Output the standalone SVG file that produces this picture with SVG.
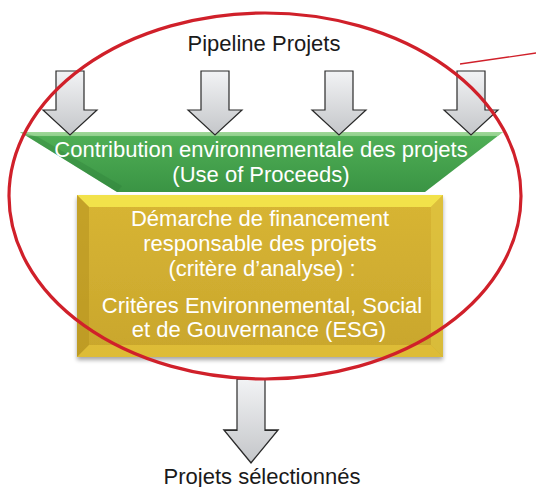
<svg xmlns="http://www.w3.org/2000/svg" width="536" height="487" viewBox="0 0 536 487">
  <defs>
    <linearGradient id="arrowFill" x1="0" y1="0" x2="0" y2="1">
      <stop offset="0" stop-color="#f2f3f5"/>
      <stop offset="1" stop-color="#c4c6c9"/>
    </linearGradient>
    <linearGradient id="greenFill" x1="0" y1="0" x2="0" y2="1">
      <stop offset="0" stop-color="#8fd08a"/>
      <stop offset="0.08" stop-color="#4fae55"/>
      <stop offset="1" stop-color="#3a9444"/>
    </linearGradient>
    <linearGradient id="goldFill" x1="0" y1="0" x2="0" y2="1">
      <stop offset="0" stop-color="#d8b534"/>
      <stop offset="1" stop-color="#c9a62c"/>
    </linearGradient>
    <filter id="shadow" x="-10%" y="-10%" width="120%" height="130%">
      <feGaussianBlur in="SourceAlpha" stdDeviation="2"/>
      <feOffset dy="3"/>
      <feComponentTransfer><feFuncA type="linear" slope="0.35"/></feComponentTransfer>
      <feMerge><feMergeNode/><feMergeNode in="SourceGraphic"/></feMerge>
    </filter>
    <path id="downArrow" d="M-14,0 H14 V39 H27 L0,64 L-27,39 H-14 Z"/>
  </defs>
  <style>
    .lbl { font-family: "Liberation Sans", Arial, sans-serif; font-size: 22px; text-anchor: middle; }
    .dark { fill: #1a1a1a; }
    .light { fill: #ffffff; }
    .arrow { fill: url(#arrowFill); stroke: #2a2a2a; stroke-width: 1.2; }
  </style>

  <!-- title -->
  <g id="pipeline-title">
    <text class="lbl dark" x="264" y="51">Pipeline Projets</text>
  </g>

  <!-- green funnel: use of proceeds -->
  <g id="use-of-proceeds">
    <polygon points="20,132 503,132 425,192 117,192" fill="url(#greenFill)"/>
    <polygon points="20,132 503,132 498,136 25,136" fill="#a8dca0" opacity="0.7"/>
    <polygon points="20,132 117,192 122,186 38,137" fill="#2f7f38" opacity="0.35"/>
    <text class="lbl light" x="261" y="157">Contribution environnementale des projets</text>
    <text class="lbl light" x="261" y="182">(Use of Proceeds)</text>
  </g>

  <!-- input arrows -->
  <g id="connectors">
    <use href="#downArrow" class="arrow" transform="translate(70,71)"/>
    <use href="#downArrow" class="arrow" transform="translate(215,71)"/>
    <use href="#downArrow" class="arrow" transform="translate(339,71)"/>
    <use href="#downArrow" class="arrow" transform="translate(471,71)"/>
    <use href="#downArrow" class="arrow" transform="translate(251,379) scale(1,1.31)"/>
  </g>

  <!-- gold box: ESG screening -->
  <g id="esg-screening">
    <rect x="77" y="195" width="366" height="162" fill="url(#goldFill)" filter="url(#shadow)"/>
    <polygon points="77,195 443,195 431,207 89,207" fill="#f2e24a"/>
    <polygon points="77,195 89,207 89,345 77,357" fill="#b8951f" opacity="0.6"/>
    <polygon points="443,195 431,207 431,345 443,357" fill="#e0c440" opacity="0.7"/>
    <polygon points="77,357 89,345 431,345 443,357" fill="#e2c23a" opacity="0.8"/>
    <text class="lbl light" x="260" y="226">Démarche de financement</text>
    <text class="lbl light" x="260" y="251">responsable des projets</text>
    <text class="lbl light" x="262" y="276">(critère d’analyse) :</text>
    <text class="lbl light" x="262" y="313">Critères Environnemental, Social</text>
    <text class="lbl light" x="259" y="337">et de Gouvernance (ESG)</text>
  </g>

  <!-- highlight ring and callout line -->
  <g id="highlight">
    <ellipse cx="265" cy="196" rx="256" ry="183" fill="none" stroke="#d0202a" stroke-width="3.2"/>
    <line x1="460" y1="64" x2="536" y2="53" stroke="#d0202a" stroke-width="1.3"/>
  </g>

  <!-- output label -->
  <g id="selected-projects">
    <text class="lbl dark" x="262" y="484">Projets sélectionnés</text>
  </g>
</svg>
